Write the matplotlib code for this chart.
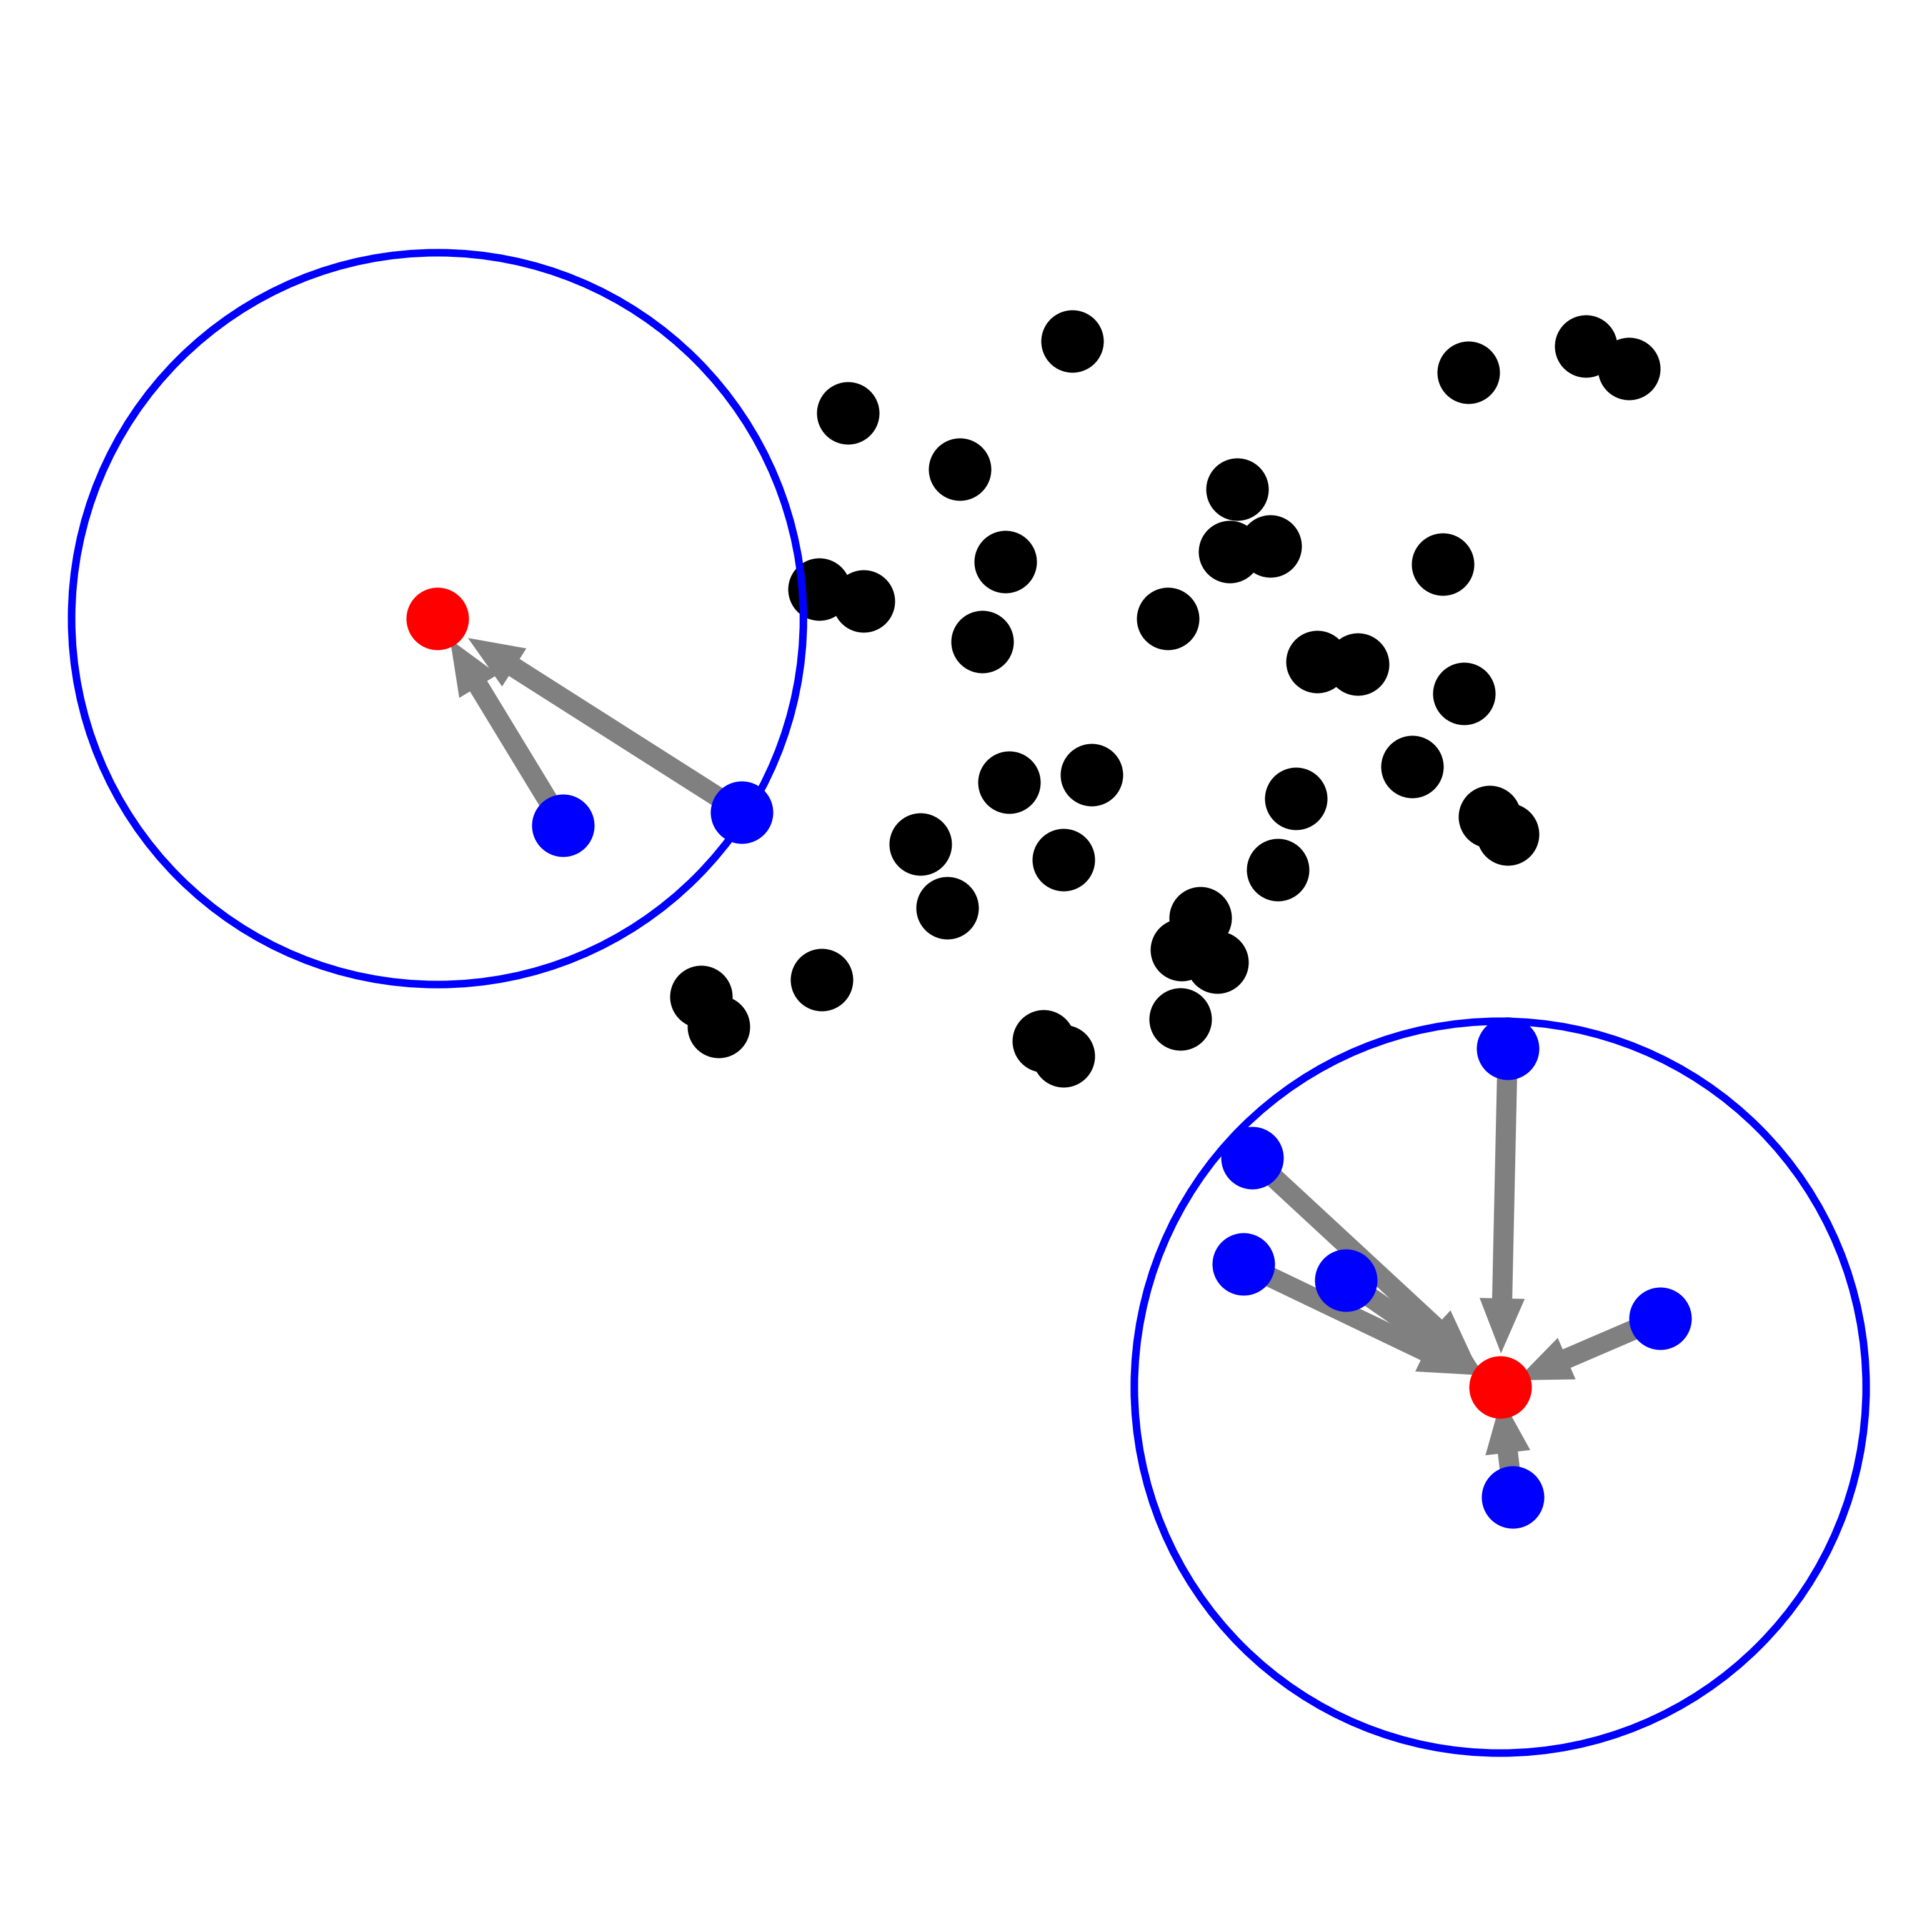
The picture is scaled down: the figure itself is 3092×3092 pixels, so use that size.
import matplotlib
matplotlib.use("Agg")
import matplotlib.pyplot as plt
import numpy as np

# cluster centres (red) and the radius of the neighbourhood circle
centre_x = [-4.333, 4.380]
centre_y = [2.848, -3.453]
radius = 3.0

# members of each neighbourhood (blue), with the index of their centre
member_x = [-3.304, -1.839, 2.347, 2.274, 3.114, 5.692, 4.441, 4.485]
member_y = [1.155, 1.261, -1.571, -2.444, -2.578, -2.889, -0.677, -4.354]
member_of = [0, 0, 1, 1, 1, 1, 1, 1]

# remaining points (black)
other_x = [0.869, -0.970, -0.051, 4.121, 5.081, 5.434, 2.222, 2.162, 2.495,
           0.323, 3.909, -1.202, -0.838, 1.657, 0.131, 2.879, 3.212, 4.081,
           3.657, 0.354, 1.030, 2.707, 4.293, 4.444, -0.374, 0.798, 2.556,
           -0.152, 1.919, 1.768, 2.061, -1.182, -2.172, -2.030, 1.758, 0.636,
           0.798]
other_y = [5.121, 4.535, 4.071, 4.869, 5.081, 4.899, 3.909, 3.394, 3.444,
           3.313, 3.293, 3.091, 2.990, 2.848, 2.657, 2.495, 2.475, 2.232,
           1.636, 1.505, 1.566, 1.374, 1.222, 1.081, 1.000, 0.869, 0.788,
           0.475, 0.394, 0.131, 0.030, -0.111, -0.253, -0.495, -0.434, -0.616,
           -0.737]

fig = plt.figure(figsize=(3092 / 300, 3092 / 300), dpi=300)
ax = fig.add_axes([0, 0, 1, 1])

# arrows from each member towards its centre (stop a bit short)
for mx, my, c in zip(member_x, member_y, member_of):
    dx = centre_x[c] - mx
    dy = centre_y[c] - my
    ax.arrow(mx, my, 0.9 * dx, 0.9 * dy, width=0.165, head_width=0.37,
             head_length=0.45, length_includes_head=True,
             color="gray", lw=0, zorder=1)

ax.scatter(other_x, other_y, s=576, c="black", linewidths=0, zorder=2)
ax.scatter(member_x, member_y, s=576, c="blue", linewidths=0, zorder=3)
ax.scatter(centre_x, centre_y, s=576, c="red", linewidths=0, zorder=4)

for cx, cy in zip(centre_x, centre_y):
    ax.add_patch(plt.Circle((cx, cy), radius, fill=False, color="blue",
                            lw=2.9, zorder=5))

ax.set_xlim(-7.92, 7.92)
ax.set_ylim(-7.92, 7.92)
ax.set_aspect("equal")
ax.axis("off")

fig.savefig("out.png", dpi=300)
